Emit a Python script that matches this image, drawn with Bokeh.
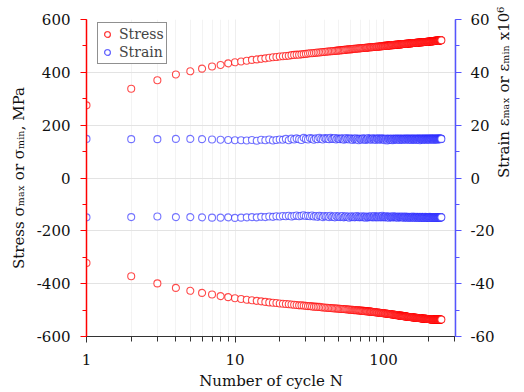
import math
from bokeh.plotting import figure
from bokeh.models import (Range1d, LinearAxis, SingleIntervalTicker, LogTicker,
                          NumeralTickFormatter, ColumnDataSource, Legend, LegendItem)
from bokeh.embed import file_html
from bokeh.resources import INLINE

cycles = list(range(1, 246))

stress_max = [
    275, 338, 370, 392, 404, 414, 422, 428, 434, 438,
    441, 444, 447, 449, 451, 453, 455, 457, 458, 460,
    461, 462, 463, 465, 466, 467, 467, 468, 469, 470,
    471, 472, 472, 473, 474, 475, 475, 476, 477, 477,
    478, 479, 479, 480, 480, 481, 481, 482, 482, 483,
    483, 484, 484, 485, 485, 486, 486, 487, 487, 487,
    488, 488, 489, 489, 489, 490, 490, 490, 491, 491,
    491, 492, 492, 492, 493, 493, 493, 494, 494, 494,
    495, 495, 495, 495, 496, 496, 496, 497, 497, 497,
    497, 498, 498, 498, 498, 499, 499, 499, 499, 500,
    500, 500, 500, 501, 501, 501, 501, 502, 502, 502,
    502, 502, 503, 503, 503, 503, 503, 504, 504, 504,
    504, 504, 505, 505, 505, 505, 505, 506, 506, 506,
    506, 506, 506, 507, 507, 507, 507, 507, 508, 508,
    508, 508, 508, 508, 509, 509, 509, 509, 509, 509,
    510, 510, 510, 510, 510, 510, 511, 511, 511, 511,
    511, 511, 511, 512, 512, 512, 512, 512, 512, 512,
    513, 513, 513, 513, 513, 513, 513, 514, 514, 514,
    514, 514, 514, 514, 514, 515, 515, 515, 515, 515,
    515, 515, 515, 516, 516, 516, 516, 516, 516, 516,
    516, 517, 517, 517, 517, 517, 517, 517, 517, 518,
    518, 518, 518, 518, 518, 518, 518, 518, 519, 519,
    519, 519, 519, 519, 519, 519, 519, 520, 520, 520,
    520, 520, 520, 520, 520, 520, 521, 521, 521, 521,
    521, 521, 521, 521, 521,
]

stress_min = [
    -322, -372, -399, -416, -427, -435, -441, -447, -451, -455,
    -458, -461, -463, -465, -467, -469, -471, -472, -473, -475,
    -476, -477, -478, -479, -480, -481, -482, -482, -483, -484,
    -485, -485, -486, -487, -487, -488, -488, -489, -490, -490,
    -491, -491, -492, -492, -493, -493, -494, -494, -494, -495,
    -495, -496, -496, -496, -497, -497, -498, -498, -498, -499,
    -499, -499, -500, -500, -500, -501, -501, -501, -502, -502,
    -502, -503, -503, -503, -504, -504, -504, -505, -505, -505,
    -506, -506, -506, -507, -507, -507, -508, -508, -508, -509,
    -509, -509, -510, -510, -510, -511, -511, -511, -512, -512,
    -512, -513, -513, -513, -514, -514, -514, -515, -515, -515,
    -516, -516, -516, -517, -517, -517, -517, -518, -518, -518,
    -519, -519, -519, -519, -520, -520, -520, -521, -521, -521,
    -521, -522, -522, -522, -522, -523, -523, -523, -523, -524,
    -524, -524, -524, -525, -525, -525, -525, -526, -526, -526,
    -526, -526, -527, -527, -527, -527, -527, -528, -528, -528,
    -528, -528, -529, -529, -529, -529, -529, -529, -530, -530,
    -530, -530, -530, -530, -531, -531, -531, -531, -531, -531,
    -532, -532, -532, -532, -532, -532, -532, -533, -533, -533,
    -533, -533, -533, -533, -533, -534, -534, -534, -534, -534,
    -534, -534, -534, -535, -535, -535, -535, -535, -535, -535,
    -535, -535, -535, -535, -535, -536, -536, -536, -536, -536,
    -536, -536, -536, -536, -536, -536, -536, -536, -536, -536,
    -536, -536, -536, -536, -536, -536, -536, -536, -536, -536,
    -536, -536, -536, -536, -536,
]

strain_max = [
    14.8, 14.7, 14.7, 14.8, 14.8, 14.7, 14.6, 14.5, 14.4, 14.3,
    14.3, 14.2, 14.4, 14.1, 14.5, 14.3, 14.6, 14.2, 14.4, 14.6,
    14.5, 14.8, 14.3, 14.9, 14.6, 15.0, 14.7, 14.4, 15.2, 14.8,
    14.6, 15.1, 14.9, 14.5, 15.0, 14.7, 15.2, 14.8, 14.6, 15.1,
    14.9, 15.0, 14.7, 15.2, 14.8, 14.9, 15.1, 14.6, 15.0, 14.8,
    14.7, 15.0, 14.9, 14.5, 14.8, 15.1, 14.7, 14.9, 14.6, 15.0,
    14.8, 14.4, 14.9, 14.7, 15.0, 14.6, 14.8, 14.3, 14.9, 14.7,
    14.5, 14.8, 15.0, 14.6, 14.9, 14.4, 14.7, 14.8, 15.1, 14.6,
    14.9, 14.7, 14.5, 14.8, 15.0, 14.6, 14.9, 14.7, 14.4, 14.8,
    15.0, 14.7, 14.9, 14.5, 14.8, 14.6, 15.0, 14.7, 14.9, 14.6,
    14.8, 14.3, 14.7, 14.9, 14.6, 14.2, 14.8, 14.5, 14.9, 14.7,
    14.4, 14.8, 14.6, 14.9, 14.3, 14.7, 14.8, 14.5, 14.9, 14.6,
    14.8, 14.7, 14.9, 14.5, 14.8, 14.6, 14.9, 14.7, 14.4, 14.8,
    14.9, 14.6, 14.8, 14.7, 14.5, 14.9, 14.7, 14.8, 14.6, 14.9,
    14.7, 14.5, 14.8, 14.9, 14.6, 14.8, 14.7, 14.9, 14.5, 14.8,
    14.6, 14.9, 14.7, 14.8, 14.4, 14.8, 14.9, 14.6, 14.7, 14.8,
    14.9, 14.5, 14.7, 14.8, 14.6, 14.9, 14.7, 14.8, 14.5, 14.9,
    14.6, 14.8, 14.7, 14.9, 14.8, 14.3, 14.7, 14.8, 14.9, 14.6,
    14.8, 14.7, 14.9, 14.5, 14.8, 14.6, 14.9, 14.7, 14.8, 14.6,
    14.9, 14.7, 14.8, 14.5, 14.9, 14.7, 14.8, 14.6, 14.9, 14.7,
    14.8, 14.6, 14.9, 14.7, 14.8, 14.5, 14.9, 14.8, 14.7, 14.9,
    14.6, 14.8, 14.7, 14.9, 14.8, 14.6, 14.9, 14.7, 14.8, 14.5,
    14.9, 14.7, 14.8, 14.6, 14.9, 14.8, 14.7, 14.9, 14.6, 14.8,
    14.7, 14.9, 14.8, 14.6, 14.9, 14.7, 14.8, 14.9, 14.7, 14.8,
    14.9, 14.7, 14.8, 14.9, 14.8,
]

strain_min = [
    -14.9, -14.8, -14.6, -14.8, -14.8, -14.9, -15.0, -15.0, -14.9, -15.1,
    -15.0, -14.9, -14.8, -14.9, -14.7, -14.8, -14.6, -14.7, -14.5, -14.6,
    -14.4, -14.5, -14.3, -14.6, -14.4, -14.2, -14.5, -14.3, -14.1, -14.4,
    -14.3, -14.5, -14.2, -14.6, -14.4, -14.7, -14.3, -14.5, -14.8, -14.4,
    -14.6, -14.5, -14.8, -14.3, -14.7, -14.6, -14.9, -14.4, -14.7, -14.5,
    -14.8, -14.6, -14.4, -14.9, -14.7, -14.5, -14.8, -14.6, -15.0, -14.7,
    -14.5, -14.8, -14.6, -14.9, -14.7, -14.4, -14.8, -14.6, -14.9, -14.7,
    -14.8, -14.5, -14.9, -14.7, -14.6, -15.0, -14.8, -14.6, -14.9, -14.7,
    -14.6, -14.8, -14.5, -14.9, -14.7, -14.8, -14.4, -14.9, -14.6, -14.8,
    -14.7, -14.9, -14.5, -14.8, -14.6, -14.9, -14.7, -14.3, -14.8, -14.6,
    -14.9, -14.7, -14.8, -14.5, -14.9, -14.6, -14.8, -14.7, -15.0, -14.6,
    -14.8, -14.9, -14.7, -14.6, -14.9, -14.8, -14.5, -14.9, -14.7, -14.8,
    -14.6, -14.9, -14.8, -14.7, -15.0, -14.8, -14.6, -14.9, -14.7, -14.8,
    -14.9, -14.7, -14.8, -14.6, -14.9, -14.8, -15.0, -14.7, -14.9, -14.8,
    -14.6, -14.9, -14.8, -14.7, -15.0, -14.8, -14.9, -14.7, -14.8, -15.0,
    -14.8, -14.9, -14.7, -15.0, -14.8, -14.9, -14.8, -14.6, -14.9, -14.8,
    -15.0, -14.8, -14.9, -14.7, -14.9, -15.0, -14.8, -14.9, -14.7, -14.9,
    -14.8, -15.0, -14.9, -14.8, -14.9, -14.7, -15.0, -14.8, -14.9, -15.0,
    -14.8, -14.9, -14.7, -15.0, -14.9, -14.8, -14.9, -15.0, -14.8, -14.9,
    -14.7, -15.0, -14.9, -14.8, -15.0, -14.9, -14.8, -14.9, -15.0, -14.8,
    -14.9, -15.0, -14.8, -14.9, -14.7, -15.0, -14.9, -14.8, -15.0, -14.9,
    -14.8, -14.9, -15.0, -14.8, -14.9, -15.0, -14.9, -14.8, -15.0, -14.9,
    -14.8, -15.0, -14.9, -14.9, -14.8, -15.0, -14.9, -14.8, -15.0, -14.9,
    -14.9, -14.8, -15.0, -14.9, -14.8, -15.0, -14.9, -14.9, -14.8, -15.0,
    -14.9, -14.8, -15.0, -14.9, -14.9,
]

FONT = "DejaVu Serif"
RED = "#ff0000"
BLUE = "#2a2aff"

src = ColumnDataSource(dict(N=cycles, smax=stress_max, smin=stress_min,
                            emax=strain_max, emin=strain_min))

p = figure(width=524, height=392, x_axis_type="log",
           x_range=Range1d(1, 305), y_range=Range1d(-600, 600),
           output_backend="svg", toolbar_location=None)
p.extra_y_ranges = {"strain": Range1d(-60, 60)}
p.min_border_left = 86
p.min_border_right = 66
p.min_border_top = 19
p.min_border_bottom = 55
p.outline_line_color = None
p.background_fill_color = "white"

mk = dict(size=7, fill_color="white", fill_alpha=1.0, line_width=1.1)
r1 = p.scatter("N", "smax", source=src, line_color=RED, line_alpha=0.7, **mk)
r2 = p.scatter("N", "smin", source=src, line_color=RED, line_alpha=0.7, **mk)
r3 = p.scatter("N", "emax", source=src, y_range_name="strain",
               line_color=BLUE, line_alpha=0.65, **mk)
r4 = p.scatter("N", "emin", source=src, y_range_name="strain",
               line_color=BLUE, line_alpha=0.65, **mk)

# x axis
xa = p.xaxis[0]
xa.ticker = LogTicker(num_minor_ticks=10)
xa.formatter = NumeralTickFormatter(format="0")
xa.axis_label = "Number of cycle N"
xa.axis_line_color = "#333333"
xa.major_tick_line_color = "#333333"
xa.minor_tick_line_color = "#333333"
xa.major_tick_in = 0
xa.major_tick_out = 6
xa.minor_tick_in = 0
xa.minor_tick_out = 5

# left axis
ya = p.yaxis[0]
ya.ticker = SingleIntervalTicker(interval=200, num_minor_ticks=2)
ya.formatter = NumeralTickFormatter(format="0")
ya.axis_label = "Stress σₘₐₓ or σₘᵢₙ, MPa"
ya.axis_line_color = RED
ya.major_tick_line_color = RED
ya.minor_tick_line_color = RED
ya.axis_line_width = 1.5

# right axis
ra = LinearAxis(y_range_name="strain",
                ticker=SingleIntervalTicker(interval=20, num_minor_ticks=2),
                formatter=NumeralTickFormatter(format="0"),
                axis_label="Strain εₘₐₓ or εₘᵢₙ x10⁶")
ra.axis_line_color = "#5555ff"
ra.major_tick_line_color = "#5555ff"
ra.minor_tick_line_color = "#5555ff"
ra.axis_line_width = 1.5
ra.axis_label_orientation = math.pi / 2
p.add_layout(ra, "right")

for ax in (xa, ya, ra):
    ax.major_label_text_font = FONT
    ax.major_label_text_font_size = "15px"
    ax.major_label_text_color = "#111111"
    ax.axis_label_text_font = FONT
    ax.axis_label_text_font_size = "15px"
    ax.axis_label_text_font_style = "normal"
    ax.axis_label_text_color = "#111111"
    ax.axis_label_standoff = 6
for ax in (ya, ra):
    ax.major_tick_in = 0
    ax.major_tick_out = 6
    ax.minor_tick_in = 0
    ax.minor_tick_out = 4
ya.major_label_standoff = 10
ra.major_label_standoff = 9
xa.major_label_standoff = 11
xa.axis_label_standoff = 4

# grids
p.ygrid.grid_line_color = "#e3e3e3"
p.xgrid.grid_line_color = "#eeeeee"
p.xgrid.minor_grid_line_color = "#f3f3f3"

legend = Legend(items=[LegendItem(label="Stress", renderers=[r1, r2]),
                       LegendItem(label="Strain", renderers=[r3, r4])],
                location=(11, 272))
legend.label_text_font = FONT
legend.label_text_font_size = "14px"
legend.label_text_color = "#444444"
legend.border_line_color = "#222222"
legend.border_line_width = 1
legend.padding = 2
legend.spacing = 0
legend.margin = 0
legend.glyph_width = 14
legend.glyph_height = 18
legend.label_height = 18
legend.label_standoff = 5
legend.background_fill_alpha = 1
p.add_layout(legend, "center")

open("out.html", "w").write(file_html(p, INLINE))
